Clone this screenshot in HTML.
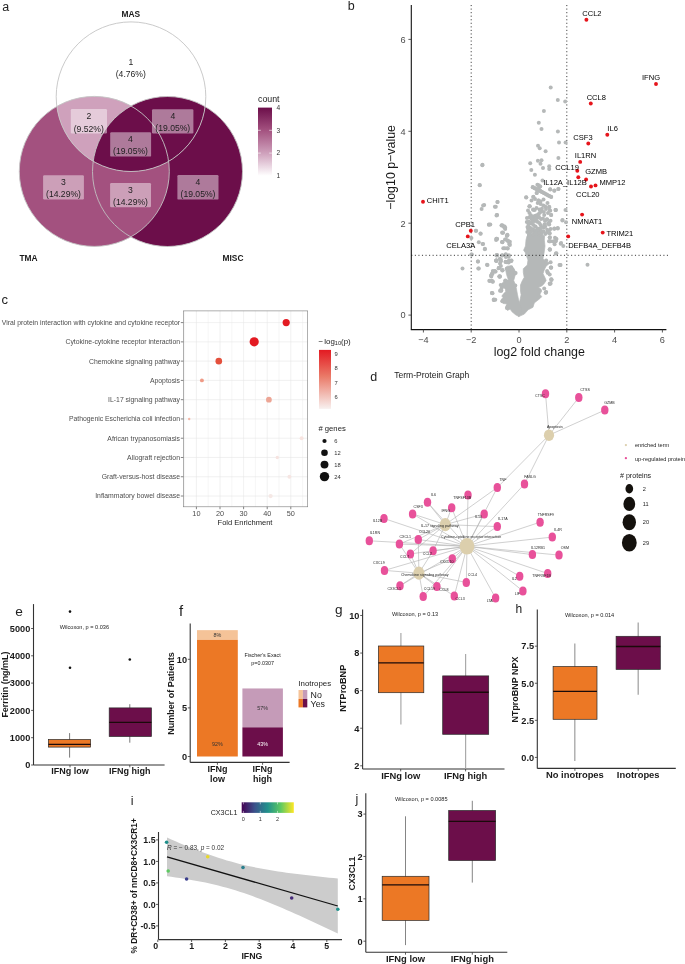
<!DOCTYPE html>
<html><head><meta charset="utf-8"><title>Figure</title>
<style>
html,body{margin:0;padding:0;background:#fff;}
body{width:685px;height:964px;overflow:hidden;}
svg{display:block;font-family:"Liberation Sans", sans-serif;will-change:transform;}
</style></head><body>
<svg width="685" height="964" viewBox="0 0 685 964">
<rect width="685" height="964" fill="#fff"/>
<defs><clipPath id="cTMA"><circle cx="94.3" cy="171.4" r="75.0"/></clipPath><clipPath id="cMISC"><circle cx="167.5" cy="171.5" r="75.0"/></clipPath><linearGradient id="gcount" x1="0" y1="0" x2="0" y2="1"><stop offset="0" stop-color="#6c0e4a"/><stop offset="0.33" stop-color="#a3517f"/><stop offset="0.67" stop-color="#cfa1bc"/><stop offset="1" stop-color="#ffffff"/></linearGradient></defs><circle cx="94.3" cy="171.4" r="75.0" fill="#a3517f" /><circle cx="167.5" cy="171.5" r="75.0" fill="#6c0e4a" /><g clip-path="url(#cTMA)"><circle cx="167.5" cy="171.5" r="75.0" fill="#a3517f" /></g><circle cx="131.0" cy="96.7" r="74.8" fill="#ffffff" /><g clip-path="url(#cTMA)"><circle cx="131.0" cy="96.7" r="74.8" fill="#cfa1bc" /></g><g clip-path="url(#cMISC)"><circle cx="131.0" cy="96.7" r="74.8" fill="#6c0e4a" /></g><circle cx="131.0" cy="96.7" r="74.8" fill="none" stroke="#c4c4c4" stroke-width="0.9"/><circle cx="94.3" cy="171.4" r="75.0" fill="none" stroke="#c4c4c4" stroke-width="0.9"/><circle cx="167.5" cy="171.5" r="75.0" fill="none" stroke="#c4c4c4" stroke-width="0.9"/><text x="130.80" y="64.70" font-size="8.6" text-anchor="middle" font-weight="normal" fill="#1e1e1e" >1</text><text x="130.80" y="77.30" font-size="8.6" text-anchor="middle" font-weight="normal" fill="#1e1e1e" >(4.76%)</text><rect x="70.8" y="109.0" width="36.2" height="24.4" rx="1.2" fill="#ffffff" fill-opacity="0.45"/><text x="88.80" y="119.20" font-size="8.6" text-anchor="middle" font-weight="normal" fill="#1e1e1e" >2</text><text x="88.80" y="131.70" font-size="8.6" text-anchor="middle" font-weight="normal" fill="#1e1e1e" >(9.52%)</text><rect x="152.0" y="109.2" width="41.4" height="24.2" rx="1.2" fill="#ffffff" fill-opacity="0.45"/><text x="172.80" y="119.00" font-size="8.6" text-anchor="middle" font-weight="normal" fill="#1e1e1e" >4</text><text x="172.80" y="131.30" font-size="8.6" text-anchor="middle" font-weight="normal" fill="#1e1e1e" >(19.05%)</text><rect x="110.2" y="132.2" width="40.9" height="24.4" rx="1.2" fill="#ffffff" fill-opacity="0.45"/><text x="130.50" y="142.00" font-size="8.6" text-anchor="middle" font-weight="normal" fill="#1e1e1e" >4</text><text x="130.50" y="154.30" font-size="8.6" text-anchor="middle" font-weight="normal" fill="#1e1e1e" >(19.05%)</text><rect x="43.1" y="175.2" width="40.8" height="24.2" rx="1.2" fill="#ffffff" fill-opacity="0.45"/><text x="63.50" y="184.90" font-size="8.6" text-anchor="middle" font-weight="normal" fill="#1e1e1e" >3</text><text x="63.50" y="196.90" font-size="8.6" text-anchor="middle" font-weight="normal" fill="#1e1e1e" >(14.29%)</text><rect x="110.1" y="183.0" width="40.9" height="24.2" rx="1.2" fill="#ffffff" fill-opacity="0.45"/><text x="130.50" y="192.70" font-size="8.6" text-anchor="middle" font-weight="normal" fill="#1e1e1e" >3</text><text x="130.50" y="204.70" font-size="8.6" text-anchor="middle" font-weight="normal" fill="#1e1e1e" >(14.29%)</text><rect x="177.4" y="175.0" width="41.1" height="24.6" rx="1.2" fill="#ffffff" fill-opacity="0.45"/><text x="198.00" y="184.80" font-size="8.6" text-anchor="middle" font-weight="normal" fill="#1e1e1e" >4</text><text x="198.00" y="196.90" font-size="8.6" text-anchor="middle" font-weight="normal" fill="#1e1e1e" >(19.05%)</text><text x="130.80" y="16.60" font-size="8.4" text-anchor="middle" font-weight="bold" fill="#1a1a1a" >MAS</text><text x="28.50" y="260.90" font-size="8.4" text-anchor="middle" font-weight="bold" fill="#1a1a1a" >TMA</text><text x="233.00" y="261.30" font-size="8.4" text-anchor="middle" font-weight="bold" fill="#1a1a1a" >MISC</text><text x="258.00" y="102.20" font-size="8.8" text-anchor="start" font-weight="normal" fill="#222" >count</text><rect x="258" y="107.6" width="14" height="68.2" fill="url(#gcount)"/><text x="276.50" y="109.90" font-size="6.6" text-anchor="start" font-weight="normal" fill="#333" >4</text><line x1="258" y1="130.3" x2="260.8" y2="130.3" stroke="#fff" stroke-width="0.6"/><line x1="269.2" y1="130.3" x2="272" y2="130.3" stroke="#fff" stroke-width="0.6"/><text x="276.50" y="132.63" font-size="6.6" text-anchor="start" font-weight="normal" fill="#333" >3</text><line x1="258" y1="153.1" x2="260.8" y2="153.1" stroke="#fff" stroke-width="0.6"/><line x1="269.2" y1="153.1" x2="272" y2="153.1" stroke="#fff" stroke-width="0.6"/><text x="276.50" y="155.36" font-size="6.6" text-anchor="start" font-weight="normal" fill="#333" >2</text><text x="276.50" y="178.09" font-size="6.6" text-anchor="start" font-weight="normal" fill="#333" >1</text><line x1="471.20" y1="5" x2="471.20" y2="329.5" stroke="#1a1a1a" stroke-width="0.85" stroke-dasharray="1.1 2.45"/><line x1="566.80" y1="5" x2="566.80" y2="329.5" stroke="#1a1a1a" stroke-width="0.85" stroke-dasharray="1.1 2.45"/><polygon points="527.0,236.0 531.0,234.0 536.0,235.0 541.0,234.2 544.6,236.0 544.3,240.0 545.0,246.1 544.0,253.3 543.0,258.4 546.0,262.0 550.5,262.5 546.1,266.2 544.2,270.0 543.0,273.7 545.5,278.7 546.1,280.5 544.2,283.6 541.7,286.1 538.5,287.2 541.1,289.2 541.7,291.1 539.9,294.2 541.7,296.7 539.9,298.6 534.3,302.9 533.0,307.3 528.1,309.8 524.3,314.1 518.7,316.6 519.4,302.9 521.1,294.8 520.5,291.1 520.5,284.9 522.4,280.5 524.2,277.4 523.3,272.4 523.3,268.7 527.3,265.0 528.0,260.0 525.1,252.3 523.6,250.2 525.5,246.0 526.0,240.0" fill="#b5b8b8" stroke="#b5b8b8" stroke-width="0.7" stroke-linejoin="round"/><polygon points="519.0,316.6 515.5,314.7 511.8,311.6 510.2,309.1 507.4,310.4 505.6,307.3 506.5,305.4 507.5,304.0 503.1,303.5 500.9,301.1 501.8,298.9 503.0,297.5 501.8,296.1 503.7,293.6 505.6,291.7 505.5,289.5 504.3,288.0 500.9,287.4 500.3,285.5 501.8,283.6 503.7,281.8 504.0,279.9 506.8,279.9 508.5,280.0 507.5,277.5 506.5,274.3 505.3,268.1 507.4,266.2 511.2,265.9 513.7,268.1 516.2,273.1 514.9,276.2 513.7,280.5 515.5,284.9 516.5,289.2 517.4,294.2 518.6,299.8 519.6,302.9 522.0,310.0" fill="#b5b8b8" stroke="#b5b8b8" stroke-width="0.7" stroke-linejoin="round"/><circle cx="550.7" cy="87.5" r="2.0" fill="#b5b8b8"/><circle cx="557.8" cy="100.1" r="2.0" fill="#b5b8b8"/><circle cx="565.2" cy="101.5" r="2.0" fill="#b5b8b8"/><circle cx="543.9" cy="110.9" r="2.0" fill="#b5b8b8"/><circle cx="538.8" cy="122.8" r="2.0" fill="#b5b8b8"/><circle cx="541.5" cy="129.0" r="2.0" fill="#b5b8b8"/><circle cx="557.9" cy="131.5" r="2.0" fill="#b5b8b8"/><circle cx="559.0" cy="142.6" r="2.0" fill="#b5b8b8"/><circle cx="565.6" cy="142.4" r="2.0" fill="#b5b8b8"/><circle cx="538.0" cy="145.7" r="2.0" fill="#b5b8b8"/><circle cx="539.7" cy="148.2" r="2.0" fill="#b5b8b8"/><circle cx="545.6" cy="151.2" r="2.0" fill="#b5b8b8"/><circle cx="558.4" cy="158.1" r="2.0" fill="#b5b8b8"/><circle cx="482.5" cy="164.8" r="2.0" fill="#b5b8b8"/><circle cx="530.2" cy="163.3" r="2.0" fill="#b5b8b8"/><circle cx="537.9" cy="160.7" r="2.0" fill="#b5b8b8"/><circle cx="541.5" cy="160.2" r="2.0" fill="#b5b8b8"/><circle cx="540.5" cy="163.8" r="2.0" fill="#b5b8b8"/><circle cx="543.0" cy="167.9" r="2.0" fill="#b5b8b8"/><circle cx="549.2" cy="166.3" r="2.0" fill="#b5b8b8"/><circle cx="549.2" cy="168.9" r="2.0" fill="#b5b8b8"/><circle cx="531.3" cy="169.9" r="2.0" fill="#b5b8b8"/><circle cx="534.9" cy="174.8" r="2.0" fill="#b5b8b8"/><circle cx="542.5" cy="180.5" r="2.0" fill="#b5b8b8"/><circle cx="532.8" cy="187.0" r="2.0" fill="#b5b8b8"/><circle cx="535.1" cy="188.2" r="2.0" fill="#b5b8b8"/><circle cx="537.4" cy="189.5" r="2.0" fill="#b5b8b8"/><circle cx="539.7" cy="190.8" r="2.0" fill="#b5b8b8"/><circle cx="542.0" cy="192.0" r="2.0" fill="#b5b8b8"/><circle cx="544.3" cy="193.2" r="2.0" fill="#b5b8b8"/><circle cx="546.6" cy="194.5" r="2.0" fill="#b5b8b8"/><circle cx="548.9" cy="195.8" r="2.0" fill="#b5b8b8"/><circle cx="551.2" cy="197.0" r="2.0" fill="#b5b8b8"/><circle cx="537.4" cy="184.7" r="2.0" fill="#b5b8b8"/><circle cx="539.0" cy="187.8" r="2.0" fill="#b5b8b8"/><circle cx="540.5" cy="191.0" r="2.0" fill="#b5b8b8"/><circle cx="536.7" cy="192.9" r="2.0" fill="#b5b8b8"/><circle cx="550.2" cy="189.3" r="2.0" fill="#b5b8b8"/><circle cx="554.3" cy="190.7" r="2.0" fill="#b5b8b8"/><circle cx="558.4" cy="189.1" r="2.0" fill="#b5b8b8"/><circle cx="526.2" cy="197.5" r="2.0" fill="#b5b8b8"/><circle cx="533.3" cy="197.0" r="2.0" fill="#b5b8b8"/><circle cx="538.4" cy="200.6" r="2.0" fill="#b5b8b8"/><circle cx="529.7" cy="206.2" r="2.0" fill="#b5b8b8"/><circle cx="533.3" cy="209.8" r="2.0" fill="#b5b8b8"/><circle cx="555.8" cy="210.1" r="2.0" fill="#b5b8b8"/><circle cx="549.2" cy="207.2" r="2.0" fill="#b5b8b8"/><circle cx="550.2" cy="210.8" r="2.0" fill="#b5b8b8"/><circle cx="551.2" cy="214.9" r="2.0" fill="#b5b8b8"/><circle cx="562.4" cy="220.5" r="2.0" fill="#b5b8b8"/><circle cx="554.3" cy="228.7" r="2.0" fill="#b5b8b8"/><circle cx="557.8" cy="228.5" r="2.0" fill="#b5b8b8"/><circle cx="565.5" cy="210.1" r="2.0" fill="#b5b8b8"/><circle cx="562.5" cy="220.1" r="2.0" fill="#b5b8b8"/><circle cx="566.0" cy="222.3" r="2.0" fill="#b5b8b8"/><circle cx="548.9" cy="222.8" r="2.0" fill="#b5b8b8"/><circle cx="549.8" cy="233.3" r="2.0" fill="#b5b8b8"/><circle cx="549.8" cy="237.2" r="2.0" fill="#b5b8b8"/><circle cx="549.3" cy="241.2" r="2.0" fill="#b5b8b8"/><circle cx="553.3" cy="241.6" r="2.0" fill="#b5b8b8"/><circle cx="554.6" cy="244.2" r="2.0" fill="#b5b8b8"/><circle cx="556.3" cy="239.0" r="2.0" fill="#b5b8b8"/><circle cx="560.7" cy="243.8" r="2.0" fill="#b5b8b8"/><circle cx="563.3" cy="246.0" r="2.0" fill="#b5b8b8"/><circle cx="549.9" cy="249.5" r="2.0" fill="#b5b8b8"/><circle cx="555.9" cy="253.4" r="2.0" fill="#b5b8b8"/><circle cx="560.5" cy="265.0" r="2.0" fill="#b5b8b8"/><circle cx="551.1" cy="267.4" r="2.0" fill="#b5b8b8"/><circle cx="529.5" cy="206.3" r="2.0" fill="#b5b8b8"/><circle cx="555.5" cy="210.1" r="2.0" fill="#b5b8b8"/><circle cx="547.1" cy="219.4" r="2.0" fill="#b5b8b8"/><circle cx="548.0" cy="223.8" r="2.0" fill="#b5b8b8"/><circle cx="548.8" cy="230.8" r="2.0" fill="#b5b8b8"/><circle cx="550.6" cy="229.0" r="2.0" fill="#b5b8b8"/><circle cx="555.0" cy="237.8" r="2.0" fill="#b5b8b8"/><circle cx="555.8" cy="241.3" r="2.0" fill="#b5b8b8"/><circle cx="550.6" cy="241.3" r="2.0" fill="#b5b8b8"/><circle cx="561.1" cy="243.1" r="2.0" fill="#b5b8b8"/><circle cx="549.7" cy="249.2" r="2.0" fill="#b5b8b8"/><circle cx="546.2" cy="260.6" r="2.0" fill="#b5b8b8"/><circle cx="550.6" cy="262.3" r="2.0" fill="#b5b8b8"/><circle cx="560.2" cy="265.0" r="2.0" fill="#b5b8b8"/><circle cx="587.5" cy="264.8" r="2.0" fill="#b5b8b8"/><circle cx="547.1" cy="271.1" r="2.0" fill="#b5b8b8"/><circle cx="549.7" cy="274.6" r="2.0" fill="#b5b8b8"/><circle cx="551.5" cy="279.9" r="2.0" fill="#b5b8b8"/><circle cx="550.6" cy="283.4" r="2.0" fill="#b5b8b8"/><circle cx="546.2" cy="292.1" r="2.0" fill="#b5b8b8"/><circle cx="549.8" cy="249.7" r="2.0" fill="#b5b8b8"/><circle cx="556.4" cy="253.3" r="2.0" fill="#b5b8b8"/><circle cx="559.5" cy="265.0" r="2.0" fill="#b5b8b8"/><circle cx="550.8" cy="267.6" r="2.0" fill="#b5b8b8"/><circle cx="547.7" cy="272.7" r="2.0" fill="#b5b8b8"/><circle cx="551.3" cy="279.3" r="2.0" fill="#b5b8b8"/><circle cx="549.8" cy="283.9" r="2.0" fill="#b5b8b8"/><circle cx="545.7" cy="292.6" r="2.0" fill="#b5b8b8"/><circle cx="482.3" cy="165.3" r="2.0" fill="#b5b8b8"/><circle cx="479.8" cy="185.3" r="2.0" fill="#b5b8b8"/><circle cx="497.4" cy="201.9" r="2.0" fill="#b5b8b8"/><circle cx="484.2" cy="205.0" r="2.0" fill="#b5b8b8"/><circle cx="481.6" cy="209.0" r="2.0" fill="#b5b8b8"/><circle cx="494.9" cy="206.7" r="2.0" fill="#b5b8b8"/><circle cx="496.9" cy="215.1" r="2.0" fill="#b5b8b8"/><circle cx="489.0" cy="224.6" r="2.0" fill="#b5b8b8"/><circle cx="475.8" cy="230.7" r="2.0" fill="#b5b8b8"/><circle cx="480.6" cy="233.8" r="2.0" fill="#b5b8b8"/><circle cx="471.4" cy="237.9" r="2.0" fill="#b5b8b8"/><circle cx="496.9" cy="238.7" r="2.0" fill="#b5b8b8"/><circle cx="478.8" cy="242.2" r="2.0" fill="#b5b8b8"/><circle cx="482.6" cy="244.0" r="2.0" fill="#b5b8b8"/><circle cx="484.9" cy="248.8" r="2.0" fill="#b5b8b8"/><circle cx="496.9" cy="239.1" r="2.0" fill="#b5b8b8"/><circle cx="471.4" cy="254.4" r="2.0" fill="#b5b8b8"/><circle cx="496.9" cy="254.9" r="2.0" fill="#b5b8b8"/><circle cx="478.0" cy="261.4" r="2.0" fill="#b5b8b8"/><circle cx="487.0" cy="264.8" r="2.0" fill="#b5b8b8"/><circle cx="462.5" cy="268.5" r="2.0" fill="#b5b8b8"/><circle cx="478.3" cy="268.5" r="2.0" fill="#b5b8b8"/><circle cx="496.4" cy="260.5" r="2.0" fill="#b5b8b8"/><circle cx="494.9" cy="271.3" r="2.0" fill="#b5b8b8"/><circle cx="499.0" cy="267.9" r="2.0" fill="#b5b8b8"/><circle cx="491.8" cy="274.3" r="2.0" fill="#b5b8b8"/><circle cx="491.3" cy="276.4" r="2.0" fill="#b5b8b8"/><circle cx="499.3" cy="276.4" r="2.0" fill="#b5b8b8"/><circle cx="489.8" cy="281.0" r="2.0" fill="#b5b8b8"/><circle cx="492.8" cy="281.8" r="2.0" fill="#b5b8b8"/><circle cx="492.5" cy="293.2" r="2.0" fill="#b5b8b8"/><circle cx="493.9" cy="299.6" r="2.0" fill="#b5b8b8"/><circle cx="500.0" cy="290.7" r="2.0" fill="#b5b8b8"/><circle cx="497.6" cy="201.9" r="2.0" fill="#b5b8b8"/><circle cx="495.8" cy="206.7" r="2.0" fill="#b5b8b8"/><circle cx="497.0" cy="214.9" r="2.0" fill="#b5b8b8"/><circle cx="502.7" cy="225.6" r="2.0" fill="#b5b8b8"/><circle cx="505.2" cy="227.7" r="2.0" fill="#b5b8b8"/><circle cx="502.2" cy="232.8" r="2.0" fill="#b5b8b8"/><circle cx="507.3" cy="234.8" r="2.0" fill="#b5b8b8"/><circle cx="501.5" cy="225.5" r="2.0" fill="#b5b8b8"/><circle cx="504.2" cy="227.3" r="2.0" fill="#b5b8b8"/><circle cx="502.4" cy="232.6" r="2.0" fill="#b5b8b8"/><circle cx="506.8" cy="236.1" r="2.0" fill="#b5b8b8"/><circle cx="507.7" cy="240.4" r="2.0" fill="#b5b8b8"/><circle cx="505.0" cy="239.6" r="2.0" fill="#b5b8b8"/><circle cx="509.4" cy="243.9" r="2.0" fill="#b5b8b8"/><circle cx="502.4" cy="242.2" r="2.0" fill="#b5b8b8"/><circle cx="496.3" cy="238.7" r="2.0" fill="#b5b8b8"/><circle cx="476.1" cy="230.8" r="2.0" fill="#b5b8b8"/><circle cx="480.5" cy="233.4" r="2.0" fill="#b5b8b8"/><circle cx="483.1" cy="243.9" r="2.0" fill="#b5b8b8"/><circle cx="477.9" cy="261.5" r="2.0" fill="#b5b8b8"/><circle cx="487.5" cy="265.0" r="2.0" fill="#b5b8b8"/><circle cx="478.8" cy="268.5" r="2.0" fill="#b5b8b8"/><circle cx="497.2" cy="255.3" r="2.0" fill="#b5b8b8"/><circle cx="496.3" cy="260.6" r="2.0" fill="#b5b8b8"/><circle cx="499.8" cy="258.8" r="2.0" fill="#b5b8b8"/><circle cx="505.9" cy="257.1" r="2.0" fill="#b5b8b8"/><circle cx="506.8" cy="262.3" r="2.0" fill="#b5b8b8"/><circle cx="492.8" cy="271.1" r="2.0" fill="#b5b8b8"/><circle cx="491.0" cy="275.5" r="2.0" fill="#b5b8b8"/><circle cx="489.3" cy="280.7" r="2.0" fill="#b5b8b8"/><circle cx="491.9" cy="280.7" r="2.0" fill="#b5b8b8"/><circle cx="491.9" cy="293.0" r="2.0" fill="#b5b8b8"/><circle cx="493.7" cy="300.0" r="2.0" fill="#b5b8b8"/><circle cx="499.8" cy="276.4" r="2.0" fill="#b5b8b8"/><circle cx="500.7" cy="285.1" r="2.0" fill="#b5b8b8"/><circle cx="501.5" cy="288.6" r="2.0" fill="#b5b8b8"/><circle cx="507.7" cy="306.1" r="2.0" fill="#b5b8b8"/><circle cx="496.1" cy="260.4" r="2.0" fill="#b5b8b8"/><circle cx="492.0" cy="273.7" r="2.0" fill="#b5b8b8"/><circle cx="499.7" cy="276.3" r="2.0" fill="#b5b8b8"/><circle cx="492.6" cy="281.4" r="2.0" fill="#b5b8b8"/><circle cx="492.0" cy="293.1" r="2.0" fill="#b5b8b8"/><circle cx="493.9" cy="299.8" r="2.0" fill="#b5b8b8"/><circle cx="494.6" cy="271.2" r="2.0" fill="#b5b8b8"/><circle cx="502.3" cy="270.1" r="2.0" fill="#b5b8b8"/><circle cx="505.3" cy="280.4" r="2.0" fill="#b5b8b8"/><circle cx="501.2" cy="290.6" r="2.0" fill="#b5b8b8"/><circle cx="502.3" cy="301.3" r="2.0" fill="#b5b8b8"/><circle cx="506.9" cy="308.0" r="2.0" fill="#b5b8b8"/><circle cx="496.6" cy="255.3" r="2.0" fill="#b5b8b8"/><circle cx="502.3" cy="255.3" r="2.0" fill="#b5b8b8"/><circle cx="505.8" cy="254.3" r="2.0" fill="#b5b8b8"/><circle cx="508.9" cy="255.3" r="2.0" fill="#b5b8b8"/><circle cx="509.4" cy="260.4" r="2.0" fill="#b5b8b8"/><circle cx="506.4" cy="262.0" r="2.0" fill="#b5b8b8"/><circle cx="511.5" cy="260.4" r="2.0" fill="#b5b8b8"/><circle cx="503.3" cy="248.2" r="2.0" fill="#b5b8b8"/><circle cx="507.4" cy="248.2" r="2.0" fill="#b5b8b8"/><circle cx="502.3" cy="242.0" r="2.0" fill="#b5b8b8"/><circle cx="509.4" cy="244.1" r="2.0" fill="#b5b8b8"/><circle cx="507.9" cy="241.0" r="2.0" fill="#b5b8b8"/><circle cx="496.1" cy="240.0" r="2.0" fill="#b5b8b8"/><circle cx="479.6" cy="184.9" r="2.0" fill="#b5b8b8"/><circle cx="483.1" cy="205.4" r="2.0" fill="#b5b8b8"/><circle cx="488.9" cy="224.7" r="2.0" fill="#b5b8b8"/><circle cx="484.9" cy="249.2" r="2.0" fill="#b5b8b8"/><circle cx="471.8" cy="254.5" r="2.0" fill="#b5b8b8"/><circle cx="532.7" cy="187.3" r="2.0" fill="#b5b8b8"/><circle cx="534.5" cy="188.2" r="2.0" fill="#b5b8b8"/><circle cx="536.4" cy="189.2" r="2.0" fill="#b5b8b8"/><circle cx="538.2" cy="190.2" r="2.0" fill="#b5b8b8"/><circle cx="540.1" cy="191.1" r="2.0" fill="#b5b8b8"/><circle cx="541.9" cy="192.1" r="2.0" fill="#b5b8b8"/><circle cx="543.7" cy="193.0" r="2.0" fill="#b5b8b8"/><circle cx="545.6" cy="194.0" r="2.0" fill="#b5b8b8"/><circle cx="547.4" cy="194.9" r="2.0" fill="#b5b8b8"/><circle cx="549.3" cy="195.9" r="2.0" fill="#b5b8b8"/><circle cx="551.1" cy="196.8" r="2.0" fill="#b5b8b8"/><circle cx="536.7" cy="192.9" r="2.0" fill="#b5b8b8"/><circle cx="538.7" cy="185.3" r="2.0" fill="#b5b8b8"/><circle cx="540.3" cy="186.6" r="2.0" fill="#b5b8b8"/><circle cx="550.2" cy="189.6" r="2.0" fill="#b5b8b8"/><circle cx="554.4" cy="190.6" r="2.0" fill="#b5b8b8"/><circle cx="558.4" cy="188.9" r="2.0" fill="#b5b8b8"/><circle cx="526.2" cy="197.2" r="2.0" fill="#b5b8b8"/><circle cx="533.4" cy="196.8" r="2.0" fill="#b5b8b8"/><circle cx="538.7" cy="200.4" r="2.0" fill="#b5b8b8"/><circle cx="537.7" cy="203.1" r="2.0" fill="#b5b8b8"/><circle cx="540.6" cy="204.1" r="2.0" fill="#b5b8b8"/><circle cx="543.3" cy="205.4" r="2.0" fill="#b5b8b8"/><circle cx="545.2" cy="206.4" r="2.0" fill="#b5b8b8"/><circle cx="549.2" cy="206.7" r="2.0" fill="#b5b8b8"/><circle cx="549.8" cy="210.3" r="2.0" fill="#b5b8b8"/><circle cx="555.7" cy="210.0" r="2.0" fill="#b5b8b8"/><circle cx="529.5" cy="206.4" r="2.0" fill="#b5b8b8"/><circle cx="533.1" cy="209.6" r="2.0" fill="#b5b8b8"/><circle cx="534.7" cy="210.0" r="2.0" fill="#b5b8b8"/><circle cx="541.9" cy="208.7" r="2.0" fill="#b5b8b8"/><circle cx="541.3" cy="211.3" r="2.0" fill="#b5b8b8"/><circle cx="543.9" cy="211.9" r="2.0" fill="#b5b8b8"/><circle cx="540.0" cy="212.6" r="2.0" fill="#b5b8b8"/><circle cx="538.7" cy="213.9" r="2.0" fill="#b5b8b8"/><circle cx="544.2" cy="214.9" r="2.0" fill="#b5b8b8"/><circle cx="551.1" cy="214.9" r="2.0" fill="#b5b8b8"/><circle cx="530.8" cy="215.2" r="2.0" fill="#b5b8b8"/><circle cx="529.5" cy="217.2" r="2.0" fill="#b5b8b8"/><circle cx="532.1" cy="216.5" r="2.0" fill="#b5b8b8"/><circle cx="534.7" cy="215.9" r="2.0" fill="#b5b8b8"/><circle cx="536.7" cy="215.2" r="2.0" fill="#b5b8b8"/><circle cx="537.3" cy="217.9" r="2.0" fill="#b5b8b8"/><circle cx="534.1" cy="218.5" r="2.0" fill="#b5b8b8"/><circle cx="531.4" cy="218.5" r="2.0" fill="#b5b8b8"/><circle cx="546.9" cy="219.2" r="2.0" fill="#b5b8b8"/><circle cx="550.5" cy="220.8" r="2.0" fill="#b5b8b8"/><circle cx="549.2" cy="224.4" r="2.0" fill="#b5b8b8"/><circle cx="526.8" cy="222.1" r="2.0" fill="#b5b8b8"/><circle cx="528.8" cy="221.5" r="2.0" fill="#b5b8b8"/><circle cx="532.1" cy="221.8" r="2.0" fill="#b5b8b8"/><circle cx="534.7" cy="221.1" r="2.0" fill="#b5b8b8"/><circle cx="537.3" cy="221.8" r="2.0" fill="#b5b8b8"/><circle cx="539.3" cy="223.1" r="2.0" fill="#b5b8b8"/><circle cx="540.6" cy="225.1" r="2.0" fill="#b5b8b8"/><circle cx="541.9" cy="227.0" r="2.0" fill="#b5b8b8"/><circle cx="543.9" cy="227.7" r="2.0" fill="#b5b8b8"/><circle cx="545.2" cy="226.4" r="2.0" fill="#b5b8b8"/><circle cx="540.0" cy="228.4" r="2.0" fill="#b5b8b8"/><circle cx="554.4" cy="228.4" r="2.0" fill="#b5b8b8"/><circle cx="557.7" cy="228.0" r="2.0" fill="#b5b8b8"/><circle cx="530.1" cy="227.7" r="2.0" fill="#b5b8b8"/><circle cx="532.7" cy="230.3" r="2.0" fill="#b5b8b8"/><circle cx="530.1" cy="233.0" r="2.0" fill="#b5b8b8"/><circle cx="528.8" cy="235.0" r="2.0" fill="#b5b8b8"/><circle cx="547.2" cy="229.7" r="2.0" fill="#b5b8b8"/><circle cx="549.2" cy="233.0" r="2.0" fill="#b5b8b8"/><circle cx="549.8" cy="237.6" r="2.0" fill="#b5b8b8"/><circle cx="549.2" cy="241.2" r="2.0" fill="#b5b8b8"/><circle cx="538.7" cy="234.3" r="2.0" fill="#b5b8b8"/><circle cx="541.3" cy="233.6" r="2.0" fill="#b5b8b8"/><circle cx="545.2" cy="234.0" r="2.0" fill="#b5b8b8"/><circle cx="556.4" cy="238.9" r="2.0" fill="#b5b8b8"/><circle cx="553.8" cy="241.5" r="2.0" fill="#b5b8b8"/><circle cx="528.6" cy="224.6" r="2.0" fill="#b5b8b8"/><circle cx="528.0" cy="228.7" r="2.0" fill="#b5b8b8"/><circle cx="527.3" cy="232.0" r="2.0" fill="#b5b8b8"/><circle cx="496.5" cy="215.6" r="2.0" fill="#b5b8b8"/><circle cx="490.3" cy="224.6" r="2.0" fill="#b5b8b8"/><circle cx="501.8" cy="225.3" r="2.0" fill="#b5b8b8"/><circle cx="504.6" cy="226.5" r="2.0" fill="#b5b8b8"/><circle cx="505.2" cy="229.0" r="2.0" fill="#b5b8b8"/><circle cx="503.1" cy="232.7" r="2.0" fill="#b5b8b8"/><circle cx="507.4" cy="235.2" r="2.0" fill="#b5b8b8"/><circle cx="496.8" cy="239.0" r="2.0" fill="#b5b8b8"/><circle cx="502.1" cy="242.1" r="2.0" fill="#b5b8b8"/><circle cx="505.9" cy="239.6" r="2.0" fill="#b5b8b8"/><circle cx="509.9" cy="241.8" r="2.0" fill="#b5b8b8"/><circle cx="509.9" cy="244.9" r="2.0" fill="#b5b8b8"/><circle cx="504.9" cy="248.3" r="2.0" fill="#b5b8b8"/><circle cx="507.7" cy="248.6" r="2.0" fill="#b5b8b8"/><circle cx="496.5" cy="255.4" r="2.0" fill="#b5b8b8"/><circle cx="502.1" cy="255.4" r="2.0" fill="#b5b8b8"/><circle cx="505.6" cy="254.8" r="2.0" fill="#b5b8b8"/><circle cx="508.7" cy="256.7" r="2.0" fill="#b5b8b8"/><circle cx="496.5" cy="260.7" r="2.0" fill="#b5b8b8"/><circle cx="500.9" cy="259.8" r="2.0" fill="#b5b8b8"/><circle cx="500.0" cy="263.5" r="2.0" fill="#b5b8b8"/><circle cx="500.9" cy="266.0" r="2.0" fill="#b5b8b8"/><circle cx="505.6" cy="261.7" r="2.0" fill="#b5b8b8"/><circle cx="508.7" cy="261.0" r="2.0" fill="#b5b8b8"/><circle cx="511.2" cy="260.7" r="2.0" fill="#b5b8b8"/><circle cx="498.7" cy="268.2" r="2.0" fill="#b5b8b8"/><circle cx="495.0" cy="271.6" r="2.0" fill="#b5b8b8"/><circle cx="492.5" cy="273.8" r="2.0" fill="#b5b8b8"/><circle cx="502.4" cy="270.4" r="2.0" fill="#b5b8b8"/><circle cx="506.8" cy="268.5" r="2.0" fill="#b5b8b8"/><circle cx="511.2" cy="267.3" r="2.0" fill="#b5b8b8"/><circle cx="512.4" cy="269.8" r="2.0" fill="#b5b8b8"/><circle cx="514.9" cy="272.9" r="2.0" fill="#b5b8b8"/><circle cx="531.5" cy="223.5" r="2.0" fill="#b5b8b8"/><circle cx="533.5" cy="225.0" r="2.0" fill="#b5b8b8"/><circle cx="535.5" cy="226.5" r="2.0" fill="#b5b8b8"/><circle cx="537.5" cy="228.5" r="2.0" fill="#b5b8b8"/><circle cx="533.0" cy="229.0" r="2.0" fill="#b5b8b8"/><circle cx="535.0" cy="230.5" r="2.0" fill="#b5b8b8"/><circle cx="537.5" cy="231.5" r="2.0" fill="#b5b8b8"/><circle cx="531.5" cy="231.0" r="2.0" fill="#b5b8b8"/><circle cx="539.5" cy="230.5" r="2.0" fill="#b5b8b8"/><circle cx="541.5" cy="231.0" r="2.0" fill="#b5b8b8"/><circle cx="543.5" cy="231.5" r="2.0" fill="#b5b8b8"/><circle cx="534.0" cy="233.0" r="2.0" fill="#b5b8b8"/><circle cx="536.5" cy="233.5" r="2.0" fill="#b5b8b8"/><circle cx="539.0" cy="233.0" r="2.0" fill="#b5b8b8"/><circle cx="533.0" cy="235.0" r="2.0" fill="#b5b8b8"/><circle cx="529.0" cy="230.0" r="2.0" fill="#b5b8b8"/><circle cx="532.5" cy="220.5" r="2.0" fill="#b5b8b8"/><circle cx="535.5" cy="219.5" r="2.0" fill="#b5b8b8"/><circle cx="539.0" cy="217.0" r="2.0" fill="#b5b8b8"/><circle cx="541.0" cy="219.0" r="2.0" fill="#b5b8b8"/><circle cx="543.0" cy="218.5" r="2.0" fill="#b5b8b8"/><circle cx="545.0" cy="221.0" r="2.0" fill="#b5b8b8"/><circle cx="529.5" cy="213.0" r="2.0" fill="#b5b8b8"/><circle cx="536.5" cy="208.0" r="2.0" fill="#b5b8b8"/><circle cx="539.5" cy="209.5" r="2.0" fill="#b5b8b8"/><circle cx="546.0" cy="209.0" r="2.0" fill="#b5b8b8"/><circle cx="548.0" cy="213.0" r="2.0" fill="#b5b8b8"/><circle cx="544.5" cy="224.5" r="2.0" fill="#b5b8b8"/><circle cx="547.0" cy="232.5" r="2.0" fill="#b5b8b8"/><circle cx="527.5" cy="227.0" r="2.0" fill="#b5b8b8"/><circle cx="540.5" cy="201.5" r="2.0" fill="#b5b8b8"/><circle cx="535.0" cy="199.0" r="2.0" fill="#b5b8b8"/><circle cx="543.5" cy="199.5" r="2.0" fill="#b5b8b8"/><circle cx="547.5" cy="203.0" r="2.0" fill="#b5b8b8"/><circle cx="531.5" cy="200.5" r="2.0" fill="#b5b8b8"/><circle cx="528.0" cy="210.5" r="2.0" fill="#b5b8b8"/><circle cx="527.0" cy="218.0" r="2.0" fill="#b5b8b8"/><circle cx="551.1" cy="267.8" r="2.0" fill="#b5b8b8"/><circle cx="547.7" cy="272.4" r="2.0" fill="#b5b8b8"/><circle cx="551.4" cy="279.6" r="2.0" fill="#b5b8b8"/><circle cx="549.8" cy="283.6" r="2.0" fill="#b5b8b8"/><circle cx="544.2" cy="288.6" r="2.0" fill="#b5b8b8"/><circle cx="545.8" cy="292.7" r="2.0" fill="#b5b8b8"/><circle cx="515.6" cy="273.1" r="2.0" fill="#b5b8b8"/><circle cx="515.3" cy="285.5" r="2.0" fill="#b5b8b8"/><circle cx="496.2" cy="260.9" r="2.0" fill="#b5b8b8"/><circle cx="500.9" cy="261.2" r="2.0" fill="#b5b8b8"/><circle cx="498.7" cy="268.1" r="2.0" fill="#b5b8b8"/><circle cx="495.6" cy="271.5" r="2.0" fill="#b5b8b8"/><circle cx="502.5" cy="270.3" r="2.0" fill="#b5b8b8"/><circle cx="499.7" cy="276.8" r="2.0" fill="#b5b8b8"/><circle cx="501.2" cy="290.8" r="2.0" fill="#b5b8b8"/><circle cx="495.3" cy="299.8" r="2.0" fill="#b5b8b8"/><circle cx="505.6" cy="261.9" r="2.0" fill="#b5b8b8"/><circle cx="508.7" cy="262.5" r="2.0" fill="#b5b8b8"/><circle cx="511.2" cy="260.9" r="2.0" fill="#b5b8b8"/><line x1="411.3" y1="255.32" x2="668" y2="255.32" stroke="#1a1a1a" stroke-width="0.85" stroke-dasharray="1.1 2.45"/><circle cx="586.4" cy="19.7" r="1.95" fill="#e6141b"/><circle cx="656.0" cy="84.0" r="1.95" fill="#e6141b"/><circle cx="590.8" cy="103.5" r="1.95" fill="#e6141b"/><circle cx="607.3" cy="134.8" r="1.95" fill="#e6141b"/><circle cx="588.3" cy="143.5" r="1.95" fill="#e6141b"/><circle cx="580.2" cy="161.9" r="1.95" fill="#e6141b"/><circle cx="577.3" cy="170.8" r="1.95" fill="#e6141b"/><circle cx="586.1" cy="179.5" r="1.95" fill="#e6141b"/><circle cx="578.3" cy="177.2" r="1.95" fill="#e6141b"/><circle cx="591.0" cy="186.5" r="1.95" fill="#e6141b"/><circle cx="595.5" cy="185.4" r="1.95" fill="#e6141b"/><circle cx="582.1" cy="214.6" r="1.95" fill="#e6141b"/><circle cx="602.7" cy="232.6" r="1.95" fill="#e6141b"/><circle cx="568.2" cy="236.4" r="1.95" fill="#e6141b"/><circle cx="423.0" cy="201.7" r="1.95" fill="#e6141b"/><circle cx="470.8" cy="230.8" r="1.95" fill="#e6141b"/><circle cx="467.8" cy="236.4" r="1.95" fill="#e6141b"/><text x="591.90" y="15.80" font-size="7.55" text-anchor="middle" font-weight="normal" fill="#000" >CCL2</text><text x="651.00" y="80.20" font-size="7.55" text-anchor="middle" font-weight="normal" fill="#000" >IFNG</text><text x="596.30" y="99.70" font-size="7.55" text-anchor="middle" font-weight="normal" fill="#000" >CCL8</text><text x="612.60" y="130.70" font-size="7.55" text-anchor="middle" font-weight="normal" fill="#000" >IL6</text><text x="583.00" y="139.70" font-size="7.55" text-anchor="middle" font-weight="normal" fill="#000" >CSF3</text><text x="585.50" y="158.10" font-size="7.55" text-anchor="middle" font-weight="normal" fill="#000" >IL1RN</text><text x="567.10" y="169.70" font-size="7.55" text-anchor="middle" font-weight="normal" fill="#000" >CCL19</text><text x="596.10" y="173.50" font-size="7.55" text-anchor="middle" font-weight="normal" fill="#000" >GZMB</text><text x="565.00" y="185.10" font-size="7.55" text-anchor="middle" font-weight="normal" fill="#000" >IL12A_IL12B</text><text x="612.40" y="185.10" font-size="7.55" text-anchor="middle" font-weight="normal" fill="#000" >MMP12</text><text x="587.80" y="196.80" font-size="7.55" text-anchor="middle" font-weight="normal" fill="#000" >CCL20</text><text x="587.00" y="224.30" font-size="7.55" text-anchor="middle" font-weight="normal" fill="#000" >NMNAT1</text><text x="619.80" y="236.00" font-size="7.55" text-anchor="middle" font-weight="normal" fill="#000" >TRIM21</text><text x="599.60" y="247.60" font-size="7.55" text-anchor="middle" font-weight="normal" fill="#000" >DEFB4A_DEFB4B</text><text x="437.70" y="203.30" font-size="7.55" text-anchor="middle" font-weight="normal" fill="#000" >CHIT1</text><text x="465.20" y="227.00" font-size="7.55" text-anchor="middle" font-weight="normal" fill="#000" >CPB1</text><text x="460.80" y="248.00" font-size="7.55" text-anchor="middle" font-weight="normal" fill="#000" >CELA3A</text><line x1="411.3" y1="5" x2="411.3" y2="329.6" stroke="#111" stroke-width="1.1"/><line x1="410.8" y1="329.6" x2="666.4" y2="329.6" stroke="#111" stroke-width="1.1"/><line x1="408.4" y1="315.10" x2="411.3" y2="315.10" stroke="#333" stroke-width="0.8"/><text x="405.60" y="318.40" font-size="9.2" text-anchor="end" font-weight="normal" fill="#4d4d4d" >0</text><line x1="408.4" y1="223.20" x2="411.3" y2="223.20" stroke="#333" stroke-width="0.8"/><text x="405.60" y="226.50" font-size="9.2" text-anchor="end" font-weight="normal" fill="#4d4d4d" >2</text><line x1="408.4" y1="131.30" x2="411.3" y2="131.30" stroke="#333" stroke-width="0.8"/><text x="405.60" y="134.60" font-size="9.2" text-anchor="end" font-weight="normal" fill="#4d4d4d" >4</text><line x1="408.4" y1="39.40" x2="411.3" y2="39.40" stroke="#333" stroke-width="0.8"/><text x="405.60" y="42.70" font-size="9.2" text-anchor="end" font-weight="normal" fill="#4d4d4d" >6</text><line x1="423.40" y1="329.6" x2="423.40" y2="332.5" stroke="#333" stroke-width="0.8"/><text x="423.40" y="343.10" font-size="9.2" text-anchor="middle" font-weight="normal" fill="#4d4d4d" >−4</text><line x1="471.20" y1="329.6" x2="471.20" y2="332.5" stroke="#333" stroke-width="0.8"/><text x="471.20" y="343.10" font-size="9.2" text-anchor="middle" font-weight="normal" fill="#4d4d4d" >−2</text><line x1="519.00" y1="329.6" x2="519.00" y2="332.5" stroke="#333" stroke-width="0.8"/><text x="519.00" y="343.10" font-size="9.2" text-anchor="middle" font-weight="normal" fill="#4d4d4d" >0</text><line x1="566.80" y1="329.6" x2="566.80" y2="332.5" stroke="#333" stroke-width="0.8"/><text x="566.80" y="343.10" font-size="9.2" text-anchor="middle" font-weight="normal" fill="#4d4d4d" >2</text><line x1="614.60" y1="329.6" x2="614.60" y2="332.5" stroke="#333" stroke-width="0.8"/><text x="614.60" y="343.10" font-size="9.2" text-anchor="middle" font-weight="normal" fill="#4d4d4d" >4</text><line x1="662.40" y1="329.6" x2="662.40" y2="332.5" stroke="#333" stroke-width="0.8"/><text x="662.40" y="343.10" font-size="9.2" text-anchor="middle" font-weight="normal" fill="#4d4d4d" >6</text><text x="539.30" y="356.40" font-size="12.45" text-anchor="middle" font-weight="normal" fill="#1a1a1a" >log2 fold change</text><text x="0" y="0" transform="translate(394.9,167.4) rotate(-90)" font-size="12.4" text-anchor="middle" fill="#1a1a1a">−log10 p−value</text><rect x="183.4" y="310.9" width="124.29999999999998" height="195.90000000000003" fill="#fff"/><line x1="184.60" y1="310.9" x2="184.60" y2="506.8" stroke="#e6e6e6" stroke-width="0.35"/><line x1="196.40" y1="310.9" x2="196.40" y2="506.8" stroke="#e6e6e6" stroke-width="0.55"/><line x1="208.20" y1="310.9" x2="208.20" y2="506.8" stroke="#e6e6e6" stroke-width="0.35"/><line x1="220.00" y1="310.9" x2="220.00" y2="506.8" stroke="#e6e6e6" stroke-width="0.55"/><line x1="231.80" y1="310.9" x2="231.80" y2="506.8" stroke="#e6e6e6" stroke-width="0.35"/><line x1="243.60" y1="310.9" x2="243.60" y2="506.8" stroke="#e6e6e6" stroke-width="0.55"/><line x1="255.40" y1="310.9" x2="255.40" y2="506.8" stroke="#e6e6e6" stroke-width="0.35"/><line x1="267.20" y1="310.9" x2="267.20" y2="506.8" stroke="#e6e6e6" stroke-width="0.55"/><line x1="279.00" y1="310.9" x2="279.00" y2="506.8" stroke="#e6e6e6" stroke-width="0.35"/><line x1="290.80" y1="310.9" x2="290.80" y2="506.8" stroke="#e6e6e6" stroke-width="0.55"/><line x1="302.60" y1="310.9" x2="302.60" y2="506.8" stroke="#e6e6e6" stroke-width="0.35"/><line x1="183.4" y1="322.60" x2="307.7" y2="322.60" stroke="#e6e6e6" stroke-width="0.55"/><line x1="180.8" y1="322.60" x2="183.4" y2="322.60" stroke="#333" stroke-width="0.6"/><text x="180.00" y="325.00" font-size="6.85" text-anchor="end" font-weight="normal" fill="#4d4d4d" >Viral protein interaction with cytokine and cytokine receptor</text><line x1="183.4" y1="341.87" x2="307.7" y2="341.87" stroke="#e6e6e6" stroke-width="0.55"/><line x1="180.8" y1="341.87" x2="183.4" y2="341.87" stroke="#333" stroke-width="0.6"/><text x="180.00" y="344.27" font-size="6.85" text-anchor="end" font-weight="normal" fill="#4d4d4d" >Cytokine-cytokine receptor interaction</text><line x1="183.4" y1="361.14" x2="307.7" y2="361.14" stroke="#e6e6e6" stroke-width="0.55"/><line x1="180.8" y1="361.14" x2="183.4" y2="361.14" stroke="#333" stroke-width="0.6"/><text x="180.00" y="363.54" font-size="6.85" text-anchor="end" font-weight="normal" fill="#4d4d4d" >Chemokine signaling pathway</text><line x1="183.4" y1="380.41" x2="307.7" y2="380.41" stroke="#e6e6e6" stroke-width="0.55"/><line x1="180.8" y1="380.41" x2="183.4" y2="380.41" stroke="#333" stroke-width="0.6"/><text x="180.00" y="382.81" font-size="6.85" text-anchor="end" font-weight="normal" fill="#4d4d4d" >Apoptosis</text><line x1="183.4" y1="399.68" x2="307.7" y2="399.68" stroke="#e6e6e6" stroke-width="0.55"/><line x1="180.8" y1="399.68" x2="183.4" y2="399.68" stroke="#333" stroke-width="0.6"/><text x="180.00" y="402.08" font-size="6.85" text-anchor="end" font-weight="normal" fill="#4d4d4d" >IL-17 signaling pathway</text><line x1="183.4" y1="418.95" x2="307.7" y2="418.95" stroke="#e6e6e6" stroke-width="0.55"/><line x1="180.8" y1="418.95" x2="183.4" y2="418.95" stroke="#333" stroke-width="0.6"/><text x="180.00" y="421.35" font-size="6.85" text-anchor="end" font-weight="normal" fill="#4d4d4d" >Pathogenic Escherichia coli infection</text><line x1="183.4" y1="438.22" x2="307.7" y2="438.22" stroke="#e6e6e6" stroke-width="0.55"/><line x1="180.8" y1="438.22" x2="183.4" y2="438.22" stroke="#333" stroke-width="0.6"/><text x="180.00" y="440.62" font-size="6.85" text-anchor="end" font-weight="normal" fill="#4d4d4d" >African trypanosomiasis</text><line x1="183.4" y1="457.49" x2="307.7" y2="457.49" stroke="#e6e6e6" stroke-width="0.55"/><line x1="180.8" y1="457.49" x2="183.4" y2="457.49" stroke="#333" stroke-width="0.6"/><text x="180.00" y="459.89" font-size="6.85" text-anchor="end" font-weight="normal" fill="#4d4d4d" >Allograft rejection</text><line x1="183.4" y1="476.76" x2="307.7" y2="476.76" stroke="#e6e6e6" stroke-width="0.55"/><line x1="180.8" y1="476.76" x2="183.4" y2="476.76" stroke="#333" stroke-width="0.6"/><text x="180.00" y="479.16" font-size="6.85" text-anchor="end" font-weight="normal" fill="#4d4d4d" >Graft-versus-host disease</text><line x1="183.4" y1="496.03" x2="307.7" y2="496.03" stroke="#e6e6e6" stroke-width="0.55"/><line x1="180.8" y1="496.03" x2="183.4" y2="496.03" stroke="#333" stroke-width="0.6"/><text x="180.00" y="498.43" font-size="6.85" text-anchor="end" font-weight="normal" fill="#4d4d4d" >Inflammatory bowel disease</text><rect x="183.4" y="310.9" width="124.29999999999998" height="195.90000000000003" fill="none" stroke="#7a7a7a" stroke-width="0.6"/><line x1="196.40" y1="506.8" x2="196.40" y2="509.2" stroke="#333" stroke-width="0.6"/><text x="196.40" y="516.20" font-size="7.3" text-anchor="middle" font-weight="normal" fill="#4d4d4d" >10</text><line x1="220.00" y1="506.8" x2="220.00" y2="509.2" stroke="#333" stroke-width="0.6"/><text x="220.00" y="516.20" font-size="7.3" text-anchor="middle" font-weight="normal" fill="#4d4d4d" >20</text><line x1="243.60" y1="506.8" x2="243.60" y2="509.2" stroke="#333" stroke-width="0.6"/><text x="243.60" y="516.20" font-size="7.3" text-anchor="middle" font-weight="normal" fill="#4d4d4d" >30</text><line x1="267.20" y1="506.8" x2="267.20" y2="509.2" stroke="#333" stroke-width="0.6"/><text x="267.20" y="516.20" font-size="7.3" text-anchor="middle" font-weight="normal" fill="#4d4d4d" >40</text><line x1="290.80" y1="506.8" x2="290.80" y2="509.2" stroke="#333" stroke-width="0.6"/><text x="290.80" y="516.20" font-size="7.3" text-anchor="middle" font-weight="normal" fill="#4d4d4d" >50</text><text x="245.00" y="525.20" font-size="7.55" text-anchor="middle" font-weight="normal" fill="#222" >Fold Enrichment</text><circle cx="286.2" cy="322.60" r="3.6" fill="#e31b23"/><circle cx="254.2" cy="341.87" r="4.6" fill="#e31a22"/><circle cx="218.8" cy="361.14" r="3.3" fill="#e4503c"/><circle cx="201.9" cy="380.41" r="1.95" fill="#ef9a86"/><circle cx="268.9" cy="399.68" r="2.9" fill="#eda595"/><circle cx="189.2" cy="418.95" r="1.2" fill="#f4b8a8"/><circle cx="301.6" cy="438.22" r="1.95" fill="#f8e4e0"/><circle cx="277.3" cy="457.49" r="1.7" fill="#f6e3e0"/><circle cx="289.4" cy="476.76" r="1.95" fill="#f6e6e3"/><circle cx="270.6" cy="496.03" r="2.15" fill="#f5e8e5"/><defs><linearGradient id="gp" x1="0" y1="0" x2="0" y2="1"><stop offset="0" stop-color="#e31a22"/><stop offset="0.45" stop-color="#ea7a68"/><stop offset="1" stop-color="#f8f1f0"/></linearGradient></defs><text x="318.60" y="343.70" font-size="7.95" text-anchor="start" font-weight="normal" fill="#222" >−<tspan dx="1">log</tspan><tspan font-size="5.6" dy="1.6">10</tspan><tspan dy="-1.6">(p)</tspan></text><rect x="319" y="349.9" width="12" height="59" fill="url(#gp)"/><text x="334.50" y="355.60" font-size="5.8" text-anchor="start" font-weight="normal" fill="#333" >9</text><text x="334.50" y="370.30" font-size="5.8" text-anchor="start" font-weight="normal" fill="#333" >8</text><text x="334.50" y="384.70" font-size="5.8" text-anchor="start" font-weight="normal" fill="#333" >7</text><text x="334.50" y="398.50" font-size="5.8" text-anchor="start" font-weight="normal" fill="#333" >6</text><text x="318.40" y="430.80" font-size="7.7" text-anchor="start" font-weight="normal" fill="#222" ># genes</text><circle cx="324.5" cy="441" r="2.1" fill="#111"/><text x="334.30" y="443.10" font-size="5.8" text-anchor="start" font-weight="normal" fill="#333" >6</text><circle cx="324.5" cy="452.8" r="3.3" fill="#111"/><text x="334.30" y="454.90" font-size="5.8" text-anchor="start" font-weight="normal" fill="#333" >12</text><circle cx="324.5" cy="464.6" r="3.95" fill="#111"/><text x="334.30" y="466.70" font-size="5.8" text-anchor="start" font-weight="normal" fill="#333" >18</text><circle cx="324.5" cy="476.6" r="4.7" fill="#111"/><text x="334.30" y="478.70" font-size="5.8" text-anchor="start" font-weight="normal" fill="#333" >24</text><text x="394.20" y="378.30" font-size="8.55" text-anchor="start" font-weight="normal" fill="#222" >Term-Protein Graph</text><line x1="549.0" y1="435.2" x2="545.5" y2="393.7" stroke="#b0b0b0" stroke-width="0.6"/><line x1="549.0" y1="435.2" x2="578.8" y2="397.5" stroke="#b0b0b0" stroke-width="0.6"/><line x1="549.0" y1="435.2" x2="604.8" y2="410.1" stroke="#b0b0b0" stroke-width="0.6"/><line x1="549.0" y1="435.2" x2="497.3" y2="487.5" stroke="#b0b0b0" stroke-width="0.6"/><line x1="549.0" y1="435.2" x2="524.5" y2="484.0" stroke="#b0b0b0" stroke-width="0.6"/><line x1="445.3" y1="524.6" x2="427.5" y2="502.3" stroke="#b0b0b0" stroke-width="0.6"/><line x1="445.3" y1="524.6" x2="451.7" y2="507.8" stroke="#b0b0b0" stroke-width="0.6"/><line x1="445.3" y1="524.6" x2="412.6" y2="513.9" stroke="#b0b0b0" stroke-width="0.6"/><line x1="445.3" y1="524.6" x2="497.3" y2="526.6" stroke="#b0b0b0" stroke-width="0.6"/><line x1="445.3" y1="524.6" x2="497.3" y2="487.5" stroke="#b0b0b0" stroke-width="0.6"/><line x1="445.3" y1="524.6" x2="484.2" y2="513.9" stroke="#b0b0b0" stroke-width="0.6"/><line x1="445.3" y1="524.6" x2="399.4" y2="544.1" stroke="#b0b0b0" stroke-width="0.6"/><line x1="445.3" y1="524.6" x2="418.3" y2="539.5" stroke="#b0b0b0" stroke-width="0.6"/><line x1="445.3" y1="524.6" x2="410.4" y2="553.9" stroke="#b0b0b0" stroke-width="0.6"/><line x1="445.3" y1="524.6" x2="433.1" y2="550.8" stroke="#b0b0b0" stroke-width="0.6"/><line x1="467.0" y1="546.3" x2="497.3" y2="487.5" stroke="#b0b0b0" stroke-width="0.6"/><line x1="467.0" y1="546.3" x2="524.5" y2="484.0" stroke="#b0b0b0" stroke-width="0.6"/><line x1="467.0" y1="546.3" x2="468.0" y2="495.0" stroke="#b0b0b0" stroke-width="0.6"/><line x1="467.0" y1="546.3" x2="427.5" y2="502.3" stroke="#b0b0b0" stroke-width="0.6"/><line x1="467.0" y1="546.3" x2="451.7" y2="507.8" stroke="#b0b0b0" stroke-width="0.6"/><line x1="467.0" y1="546.3" x2="412.6" y2="513.9" stroke="#b0b0b0" stroke-width="0.6"/><line x1="467.0" y1="546.3" x2="484.2" y2="513.9" stroke="#b0b0b0" stroke-width="0.6"/><line x1="467.0" y1="546.3" x2="384.0" y2="518.5" stroke="#b0b0b0" stroke-width="0.6"/><line x1="467.0" y1="546.3" x2="497.3" y2="526.6" stroke="#b0b0b0" stroke-width="0.6"/><line x1="467.0" y1="546.3" x2="540.1" y2="522.2" stroke="#b0b0b0" stroke-width="0.6"/><line x1="467.0" y1="546.3" x2="552.3" y2="537.1" stroke="#b0b0b0" stroke-width="0.6"/><line x1="467.0" y1="546.3" x2="369.3" y2="540.8" stroke="#b0b0b0" stroke-width="0.6"/><line x1="467.0" y1="546.3" x2="399.4" y2="544.1" stroke="#b0b0b0" stroke-width="0.6"/><line x1="467.0" y1="546.3" x2="418.3" y2="539.5" stroke="#b0b0b0" stroke-width="0.6"/><line x1="467.0" y1="546.3" x2="410.4" y2="553.9" stroke="#b0b0b0" stroke-width="0.6"/><line x1="467.0" y1="546.3" x2="433.1" y2="550.8" stroke="#b0b0b0" stroke-width="0.6"/><line x1="467.0" y1="546.3" x2="532.4" y2="554.6" stroke="#b0b0b0" stroke-width="0.6"/><line x1="467.0" y1="546.3" x2="559.0" y2="555.1" stroke="#b0b0b0" stroke-width="0.6"/><line x1="467.0" y1="546.3" x2="452.3" y2="558.8" stroke="#b0b0b0" stroke-width="0.6"/><line x1="467.0" y1="546.3" x2="384.5" y2="570.4" stroke="#b0b0b0" stroke-width="0.6"/><line x1="467.0" y1="546.3" x2="547.7" y2="573.5" stroke="#b0b0b0" stroke-width="0.6"/><line x1="467.0" y1="546.3" x2="519.7" y2="576.2" stroke="#b0b0b0" stroke-width="0.6"/><line x1="467.0" y1="546.3" x2="466.3" y2="582.4" stroke="#b0b0b0" stroke-width="0.6"/><line x1="467.0" y1="546.3" x2="400.0" y2="585.8" stroke="#b0b0b0" stroke-width="0.6"/><line x1="467.0" y1="546.3" x2="423.2" y2="596.6" stroke="#b0b0b0" stroke-width="0.6"/><line x1="467.0" y1="546.3" x2="436.9" y2="586.6" stroke="#b0b0b0" stroke-width="0.6"/><line x1="467.0" y1="546.3" x2="522.9" y2="591.0" stroke="#b0b0b0" stroke-width="0.6"/><line x1="467.0" y1="546.3" x2="454.3" y2="596.0" stroke="#b0b0b0" stroke-width="0.6"/><line x1="467.0" y1="546.3" x2="495.6" y2="598.1" stroke="#b0b0b0" stroke-width="0.6"/><line x1="418.9" y1="573.2" x2="399.4" y2="544.1" stroke="#b0b0b0" stroke-width="0.6"/><line x1="418.9" y1="573.2" x2="418.3" y2="539.5" stroke="#b0b0b0" stroke-width="0.6"/><line x1="418.9" y1="573.2" x2="410.4" y2="553.9" stroke="#b0b0b0" stroke-width="0.6"/><line x1="418.9" y1="573.2" x2="433.1" y2="550.8" stroke="#b0b0b0" stroke-width="0.6"/><line x1="418.9" y1="573.2" x2="452.3" y2="558.8" stroke="#b0b0b0" stroke-width="0.6"/><line x1="418.9" y1="573.2" x2="384.5" y2="570.4" stroke="#b0b0b0" stroke-width="0.6"/><line x1="418.9" y1="573.2" x2="466.3" y2="582.4" stroke="#b0b0b0" stroke-width="0.6"/><line x1="418.9" y1="573.2" x2="400.0" y2="585.8" stroke="#b0b0b0" stroke-width="0.6"/><line x1="418.9" y1="573.2" x2="423.2" y2="596.6" stroke="#b0b0b0" stroke-width="0.6"/><line x1="418.9" y1="573.2" x2="436.9" y2="586.6" stroke="#b0b0b0" stroke-width="0.6"/><line x1="418.9" y1="573.2" x2="454.3" y2="596.0" stroke="#b0b0b0" stroke-width="0.6"/><ellipse cx="549.0" cy="435.2" rx="5.1" ry="5.8" fill="#dccfad"/><ellipse cx="445.3" cy="524.6" rx="5.6" ry="6.6" fill="#dccfad"/><ellipse cx="467.0" cy="546.3" rx="7.4" ry="8.3" fill="#dccfad"/><ellipse cx="418.9" cy="573.2" rx="5.5" ry="6.6" fill="#dccfad"/><ellipse cx="545.5" cy="393.7" rx="3.7" ry="4.5" fill="#e8519a"/><ellipse cx="578.8" cy="397.5" rx="3.7" ry="4.5" fill="#e8519a"/><ellipse cx="604.8" cy="410.1" rx="3.7" ry="4.5" fill="#e8519a"/><ellipse cx="497.3" cy="487.5" rx="3.7" ry="4.5" fill="#e8519a"/><ellipse cx="524.5" cy="484.0" rx="3.7" ry="4.5" fill="#e8519a"/><ellipse cx="468.0" cy="495.0" rx="3.7" ry="4.5" fill="#e8519a"/><ellipse cx="427.5" cy="502.3" rx="3.7" ry="4.5" fill="#e8519a"/><ellipse cx="451.7" cy="507.8" rx="3.7" ry="4.5" fill="#e8519a"/><ellipse cx="412.6" cy="513.9" rx="3.7" ry="4.5" fill="#e8519a"/><ellipse cx="484.2" cy="513.9" rx="3.7" ry="4.5" fill="#e8519a"/><ellipse cx="384.0" cy="518.5" rx="3.7" ry="4.5" fill="#e8519a"/><ellipse cx="497.3" cy="526.6" rx="3.7" ry="4.5" fill="#e8519a"/><ellipse cx="540.1" cy="522.2" rx="3.7" ry="4.5" fill="#e8519a"/><ellipse cx="552.3" cy="537.1" rx="3.7" ry="4.5" fill="#e8519a"/><ellipse cx="369.3" cy="540.8" rx="3.7" ry="4.5" fill="#e8519a"/><ellipse cx="399.4" cy="544.1" rx="3.7" ry="4.5" fill="#e8519a"/><ellipse cx="418.3" cy="539.5" rx="3.7" ry="4.5" fill="#e8519a"/><ellipse cx="410.4" cy="553.9" rx="3.7" ry="4.5" fill="#e8519a"/><ellipse cx="433.1" cy="550.8" rx="3.7" ry="4.5" fill="#e8519a"/><ellipse cx="532.4" cy="554.6" rx="3.7" ry="4.5" fill="#e8519a"/><ellipse cx="559.0" cy="555.1" rx="3.7" ry="4.5" fill="#e8519a"/><ellipse cx="452.3" cy="558.8" rx="3.7" ry="4.5" fill="#e8519a"/><ellipse cx="384.5" cy="570.4" rx="3.7" ry="4.5" fill="#e8519a"/><ellipse cx="547.7" cy="573.5" rx="3.7" ry="4.5" fill="#e8519a"/><ellipse cx="519.7" cy="576.2" rx="3.7" ry="4.5" fill="#e8519a"/><ellipse cx="466.3" cy="582.4" rx="3.7" ry="4.5" fill="#e8519a"/><ellipse cx="400.0" cy="585.8" rx="3.7" ry="4.5" fill="#e8519a"/><ellipse cx="423.2" cy="596.6" rx="3.7" ry="4.5" fill="#e8519a"/><ellipse cx="436.9" cy="586.6" rx="3.7" ry="4.5" fill="#e8519a"/><ellipse cx="522.9" cy="591.0" rx="3.7" ry="4.5" fill="#e8519a"/><ellipse cx="454.3" cy="596.0" rx="3.7" ry="4.5" fill="#e8519a"/><ellipse cx="495.6" cy="598.1" rx="3.7" ry="4.5" fill="#e8519a"/><text x="540.00" y="397.40" font-size="3.6" text-anchor="middle" font-weight="normal" fill="#222" >CTSC</text><text x="585.00" y="391.10" font-size="3.6" text-anchor="middle" font-weight="normal" fill="#222" >CTSS</text><text x="609.50" y="403.60" font-size="3.6" text-anchor="middle" font-weight="normal" fill="#222" >GZMB</text><text x="502.90" y="481.30" font-size="3.6" text-anchor="middle" font-weight="normal" fill="#222" >TNF</text><text x="530.10" y="477.80" font-size="3.6" text-anchor="middle" font-weight="normal" fill="#222" >FASLG</text><text x="462.30" y="499.00" font-size="3.6" text-anchor="middle" font-weight="normal" fill="#222" >TNFSF13B</text><text x="433.40" y="496.20" font-size="3.6" text-anchor="middle" font-weight="normal" fill="#222" >IL6</text><text x="445.70" y="511.60" font-size="3.6" text-anchor="middle" font-weight="normal" fill="#222" >IFNG</text><text x="418.20" y="507.80" font-size="3.6" text-anchor="middle" font-weight="normal" fill="#222" >CSF3</text><text x="478.40" y="517.80" font-size="3.6" text-anchor="middle" font-weight="normal" fill="#222" >IL10</text><text x="377.50" y="522.20" font-size="3.6" text-anchor="middle" font-weight="normal" fill="#222" >IL12B</text><text x="502.90" y="520.20" font-size="3.6" text-anchor="middle" font-weight="normal" fill="#222" >IL17A</text><text x="545.80" y="515.80" font-size="3.6" text-anchor="middle" font-weight="normal" fill="#222" >TNFRSF9</text><text x="558.10" y="530.70" font-size="3.6" text-anchor="middle" font-weight="normal" fill="#222" >IL4R</text><text x="374.90" y="534.40" font-size="3.6" text-anchor="middle" font-weight="normal" fill="#222" >IL1RN</text><text x="405.20" y="538.00" font-size="3.6" text-anchor="middle" font-weight="normal" fill="#222" >CXCL1</text><text x="424.50" y="533.10" font-size="3.6" text-anchor="middle" font-weight="normal" fill="#222" >CCL20</text><text x="404.70" y="557.80" font-size="3.6" text-anchor="middle" font-weight="normal" fill="#222" >CCL7</text><text x="427.40" y="554.60" font-size="3.6" text-anchor="middle" font-weight="normal" fill="#222" >CCL2</text><text x="538.00" y="548.60" font-size="3.6" text-anchor="middle" font-weight="normal" fill="#222" >IL12RB1</text><text x="564.80" y="548.90" font-size="3.6" text-anchor="middle" font-weight="normal" fill="#222" >OSM</text><text x="446.70" y="562.80" font-size="3.6" text-anchor="middle" font-weight="normal" fill="#222" >CXCL10</text><text x="378.90" y="564.20" font-size="3.6" text-anchor="middle" font-weight="normal" fill="#222" >CXCL9</text><text x="541.60" y="577.40" font-size="3.6" text-anchor="middle" font-weight="normal" fill="#222" >TNFRSF1B</text><text x="514.20" y="580.20" font-size="3.6" text-anchor="middle" font-weight="normal" fill="#222" >IL2</text><text x="472.40" y="576.30" font-size="3.6" text-anchor="middle" font-weight="normal" fill="#222" >CCL4</text><text x="394.20" y="589.50" font-size="3.6" text-anchor="middle" font-weight="normal" fill="#222" >CX3CL1</text><text x="429.40" y="590.00" font-size="3.6" text-anchor="middle" font-weight="normal" fill="#222" >CCL19</text><text x="443.90" y="591.00" font-size="3.6" text-anchor="middle" font-weight="normal" fill="#222" >CCL8</text><text x="517.40" y="594.70" font-size="3.6" text-anchor="middle" font-weight="normal" fill="#222" >LIF</text><text x="460.10" y="599.80" font-size="3.6" text-anchor="middle" font-weight="normal" fill="#222" >CCL3</text><text x="489.70" y="601.60" font-size="3.6" text-anchor="middle" font-weight="normal" fill="#222" >LTA</text><text x="554.80" y="427.80" font-size="3.6" text-anchor="middle" font-weight="normal" fill="#222" >Apoptosis</text><text x="439.60" y="527.40" font-size="3.6" text-anchor="middle" font-weight="normal" fill="#222" >IL-17 signaling pathway</text><text x="471.10" y="538.30" font-size="3.6" text-anchor="middle" font-weight="normal" fill="#222" >Cytokine-cytokine receptor interaction</text><text x="424.80" y="576.20" font-size="3.6" text-anchor="middle" font-weight="normal" fill="#222" >Chemokine signaling pathway</text><circle cx="625.9" cy="445.1" r="1.15" fill="#dccfad"/><circle cx="625.9" cy="458.2" r="1.15" fill="#e8519a"/><text x="635.00" y="447.30" font-size="5.6" text-anchor="start" font-weight="normal" fill="#222" >enriched term</text><text x="635.00" y="460.60" font-size="5.6" text-anchor="start" font-weight="normal" fill="#222" >up-regulated protein</text><text x="620.00" y="477.60" font-size="7.1" text-anchor="start" font-weight="normal" fill="#222" ># proteins</text><ellipse cx="629.3" cy="488.8" rx="3.85" ry="4.7" fill="#14110d"/><text x="642.80" y="490.80" font-size="5.6" text-anchor="start" font-weight="normal" fill="#222" >2</text><ellipse cx="629.3" cy="503.9" rx="5.9" ry="7.05" fill="#14110d"/><text x="642.80" y="505.90" font-size="5.6" text-anchor="start" font-weight="normal" fill="#222" >11</text><ellipse cx="629.3" cy="522.3" rx="6.7" ry="8.05" fill="#14110d"/><text x="642.80" y="524.30" font-size="5.6" text-anchor="start" font-weight="normal" fill="#222" >20</text><ellipse cx="629.3" cy="542.8" rx="7.4" ry="8.75" fill="#14110d"/><text x="642.80" y="544.80" font-size="5.6" text-anchor="start" font-weight="normal" fill="#222" >29</text><line x1="33.5" y1="604.1" x2="33.5" y2="765.0" stroke="#333" stroke-width="1.1"/><line x1="31.1" y1="765.00" x2="33.5" y2="765.00" stroke="#333" stroke-width="0.8"/><text x="30.30" y="768.31" font-size="9.2" text-anchor="end" font-weight="bold" fill="#1a1a1a" >0</text><line x1="31.1" y1="737.70" x2="33.5" y2="737.70" stroke="#333" stroke-width="0.8"/><text x="30.30" y="741.01" font-size="9.2" text-anchor="end" font-weight="bold" fill="#1a1a1a" >1000</text><line x1="31.1" y1="710.40" x2="33.5" y2="710.40" stroke="#333" stroke-width="0.8"/><text x="30.30" y="713.71" font-size="9.2" text-anchor="end" font-weight="bold" fill="#1a1a1a" >2000</text><line x1="31.1" y1="683.10" x2="33.5" y2="683.10" stroke="#333" stroke-width="0.8"/><text x="30.30" y="686.41" font-size="9.2" text-anchor="end" font-weight="bold" fill="#1a1a1a" >3000</text><line x1="31.1" y1="655.80" x2="33.5" y2="655.80" stroke="#333" stroke-width="0.8"/><text x="30.30" y="659.11" font-size="9.2" text-anchor="end" font-weight="bold" fill="#1a1a1a" >4000</text><line x1="31.1" y1="628.50" x2="33.5" y2="628.50" stroke="#333" stroke-width="0.8"/><text x="30.30" y="631.81" font-size="9.2" text-anchor="end" font-weight="bold" fill="#1a1a1a" >5000</text><line x1="33.5" y1="765.0" x2="164.6" y2="765.0" stroke="#333" stroke-width="1.1"/><line x1="70.00" y1="765.0" x2="70.00" y2="767.4" stroke="#333" stroke-width="0.8"/><text x="70.00" y="774.40" font-size="9.0" text-anchor="middle" font-weight="bold" fill="#1a1a1a" >IFNg low</text><line x1="129.80" y1="765.0" x2="129.80" y2="767.4" stroke="#333" stroke-width="0.8"/><text x="129.80" y="774.40" font-size="9.0" text-anchor="middle" font-weight="bold" fill="#1a1a1a" >IFNg high</text><text x="0" y="0" transform="translate(7.9,684.6) rotate(-90)" font-size="8.95" text-anchor="middle" font-weight="bold" fill="#1a1a1a">Ferritin (ng/mL)</text><line x1="69.6" y1="733.1" x2="69.6" y2="757.6" stroke="#6a6a6a" stroke-width="0.9"/><rect x="48.4" y="739.5" width="42.20" height="7.60" fill="#ec7825" stroke="#2a2a2a" stroke-width="0.7"/><line x1="48.4" y1="744.3" x2="90.6" y2="744.3" stroke="#1a0a0a" stroke-width="1.35"/><line x1="129.8" y1="704.2" x2="129.8" y2="742.7" stroke="#6a6a6a" stroke-width="0.9"/><rect x="109.2" y="707.9" width="42.20" height="28.60" fill="#6c0e4a" stroke="#2a2a2a" stroke-width="0.7"/><line x1="109.2" y1="722.3" x2="151.4" y2="722.3" stroke="#1a0a0a" stroke-width="1.35"/><circle cx="70.0" cy="611.6" r="1.3" fill="#111"/><circle cx="70.0" cy="667.7" r="1.3" fill="#111"/><circle cx="129.8" cy="659.5" r="1.3" fill="#111"/><text x="84.40" y="629.20" font-size="5.6" text-anchor="middle" font-weight="normal" fill="#222" >Wilcoxon, p = 0.036</text><rect x="197" y="630.14" width="40.8" height="9.72" fill="#f5c398"/><rect x="197" y="639.86" width="40.8" height="116.64" fill="#ec7825"/><rect x="242.4" y="688.46" width="40.5" height="38.88" fill="#c59bb8"/><rect x="242.4" y="727.34" width="40.5" height="29.16" fill="#6c0e4a"/><line x1="190.2" y1="623.4" x2="190.2" y2="762.4" stroke="#333" stroke-width="1.1"/><line x1="187.79999999999998" y1="756.50" x2="190.2" y2="756.50" stroke="#333" stroke-width="0.8"/><text x="187.00" y="759.81" font-size="9.2" text-anchor="end" font-weight="bold" fill="#1a1a1a" >0</text><line x1="187.79999999999998" y1="707.90" x2="190.2" y2="707.90" stroke="#333" stroke-width="0.8"/><text x="187.00" y="711.21" font-size="9.2" text-anchor="end" font-weight="bold" fill="#1a1a1a" >5</text><line x1="187.79999999999998" y1="659.30" x2="190.2" y2="659.30" stroke="#333" stroke-width="0.8"/><text x="187.00" y="662.61" font-size="9.2" text-anchor="end" font-weight="bold" fill="#1a1a1a" >10</text><line x1="190.2" y1="762.4" x2="289.6" y2="762.4" stroke="#333" stroke-width="1.1"/><line x1="217.4" y1="762.4" x2="217.4" y2="764.8" stroke="#333" stroke-width="0.8"/><line x1="262.6" y1="762.4" x2="262.6" y2="764.8" stroke="#333" stroke-width="0.8"/><text x="217.40" y="772.40" font-size="9.0" text-anchor="middle" font-weight="bold" fill="#1a1a1a" >IFNg</text><text x="217.40" y="781.80" font-size="9.0" text-anchor="middle" font-weight="bold" fill="#1a1a1a" >low</text><text x="262.60" y="772.40" font-size="9.0" text-anchor="middle" font-weight="bold" fill="#1a1a1a" >IFNg</text><text x="262.60" y="781.80" font-size="9.0" text-anchor="middle" font-weight="bold" fill="#1a1a1a" >high</text><text x="0" y="0" transform="translate(174.0,693.6) rotate(-90)" font-size="9.0" text-anchor="middle" font-weight="bold" fill="#1a1a1a">Number of Patients</text><text x="217.30" y="637.00" font-size="5.4" text-anchor="middle" font-weight="normal" fill="#333" >8%</text><text x="217.30" y="745.50" font-size="5.4" text-anchor="middle" font-weight="normal" fill="#333" >92%</text><text x="262.60" y="709.90" font-size="5.4" text-anchor="middle" font-weight="normal" fill="#333" >57%</text><text x="262.60" y="745.50" font-size="5.4" text-anchor="middle" font-weight="normal" fill="#fff" >43%</text><text x="262.60" y="657.20" font-size="5.4" text-anchor="middle" font-weight="normal" fill="#222" >Fischer's Exact</text><text x="262.60" y="665.00" font-size="5.4" text-anchor="middle" font-weight="normal" fill="#222" >p=0.0307</text><text x="298.30" y="685.60" font-size="7.9" text-anchor="start" font-weight="normal" fill="#222" >Inotropes</text><rect x="298.5" y="690" width="4.4" height="9" fill="#f5c398"/><rect x="302.9" y="690" width="4.4" height="9" fill="#c59bb8"/><rect x="298.5" y="699" width="4.4" height="8.4" fill="#ec7825"/><rect x="302.9" y="699" width="4.4" height="8.4" fill="#6c0e4a"/><text x="310.60" y="698.10" font-size="8.8" text-anchor="start" font-weight="normal" fill="#222" >No</text><text x="310.60" y="706.80" font-size="8.8" text-anchor="start" font-weight="normal" fill="#222" >Yes</text><line x1="362.6" y1="609.5" x2="362.6" y2="769.0" stroke="#333" stroke-width="1.1"/><line x1="360.20000000000005" y1="765.80" x2="362.6" y2="765.80" stroke="#333" stroke-width="0.8"/><text x="359.40" y="769.11" font-size="9.2" text-anchor="end" font-weight="bold" fill="#1a1a1a" >2</text><line x1="360.20000000000005" y1="728.22" x2="362.6" y2="728.22" stroke="#333" stroke-width="0.8"/><text x="359.40" y="731.53" font-size="9.2" text-anchor="end" font-weight="bold" fill="#1a1a1a" >4</text><line x1="360.20000000000005" y1="690.64" x2="362.6" y2="690.64" stroke="#333" stroke-width="0.8"/><text x="359.40" y="693.95" font-size="9.2" text-anchor="end" font-weight="bold" fill="#1a1a1a" >6</text><line x1="360.20000000000005" y1="653.06" x2="362.6" y2="653.06" stroke="#333" stroke-width="0.8"/><text x="359.40" y="656.37" font-size="9.2" text-anchor="end" font-weight="bold" fill="#1a1a1a" >8</text><line x1="360.20000000000005" y1="615.48" x2="362.6" y2="615.48" stroke="#333" stroke-width="0.8"/><text x="359.40" y="618.79" font-size="9.2" text-anchor="end" font-weight="bold" fill="#1a1a1a" >10</text><line x1="362.6" y1="769.0" x2="504.5" y2="769.0" stroke="#333" stroke-width="1.1"/><line x1="400.70" y1="769.0" x2="400.70" y2="771.4" stroke="#333" stroke-width="0.8"/><text x="400.70" y="779.20" font-size="9.4" text-anchor="middle" font-weight="bold" fill="#1a1a1a" >IFNg low</text><line x1="465.60" y1="769.0" x2="465.60" y2="771.4" stroke="#333" stroke-width="0.8"/><text x="465.60" y="779.20" font-size="9.4" text-anchor="middle" font-weight="bold" fill="#1a1a1a" >IFNg high</text><text x="0" y="0" transform="translate(345.8,688.2) rotate(-90)" font-size="9.25" text-anchor="middle" font-weight="bold" fill="#1a1a1a">NTProBNP</text><line x1="400.9" y1="633.1" x2="400.9" y2="724.5" stroke="#aaaaaa" stroke-width="1.2"/><rect x="378.4" y="646.0" width="45.40" height="46.70" fill="#ec7825" stroke="#2a2a2a" stroke-width="0.7"/><line x1="378.4" y1="662.8" x2="423.8" y2="662.8" stroke="#1a0a0a" stroke-width="1.35"/><line x1="465.6" y1="654.1" x2="465.6" y2="768.4" stroke="#aaaaaa" stroke-width="1.2"/><rect x="442.7" y="675.9" width="46.00" height="58.40" fill="#6c0e4a" stroke="#2a2a2a" stroke-width="0.7"/><line x1="442.7" y1="692.2" x2="488.7" y2="692.2" stroke="#1a0a0a" stroke-width="1.35"/><text x="415.10" y="615.90" font-size="5.6" text-anchor="middle" font-weight="normal" fill="#222" >Wilcoxon, p = 0.13</text><line x1="537.3" y1="609.5" x2="537.3" y2="768.4" stroke="#333" stroke-width="1.1"/><line x1="534.9" y1="757.40" x2="537.3" y2="757.40" stroke="#333" stroke-width="0.8"/><text x="534.10" y="760.71" font-size="9.2" text-anchor="end" font-weight="bold" fill="#1a1a1a" >0.0</text><line x1="534.9" y1="720.32" x2="537.3" y2="720.32" stroke="#333" stroke-width="0.8"/><text x="534.10" y="723.64" font-size="9.2" text-anchor="end" font-weight="bold" fill="#1a1a1a" >2.5</text><line x1="534.9" y1="683.25" x2="537.3" y2="683.25" stroke="#333" stroke-width="0.8"/><text x="534.10" y="686.56" font-size="9.2" text-anchor="end" font-weight="bold" fill="#1a1a1a" >5.0</text><line x1="534.9" y1="646.17" x2="537.3" y2="646.17" stroke="#333" stroke-width="0.8"/><text x="534.10" y="649.49" font-size="9.2" text-anchor="end" font-weight="bold" fill="#1a1a1a" >7.5</text><line x1="537.3" y1="768.4" x2="675.8" y2="768.4" stroke="#333" stroke-width="1.1"/><line x1="574.90" y1="768.4" x2="574.90" y2="770.8" stroke="#333" stroke-width="0.8"/><text x="574.90" y="778.40" font-size="9.4" text-anchor="middle" font-weight="bold" fill="#1a1a1a" >No inotropes</text><line x1="638.20" y1="768.4" x2="638.20" y2="770.8" stroke="#333" stroke-width="0.8"/><text x="638.20" y="778.40" font-size="9.4" text-anchor="middle" font-weight="bold" fill="#1a1a1a" >Inotropes</text><text x="0" y="0" transform="translate(518.3,689.6) rotate(-90)" font-size="8.95" text-anchor="middle" font-weight="bold" fill="#1a1a1a">NTproBNP NPX</text><line x1="574.8" y1="643.6" x2="574.8" y2="761.0" stroke="#a5a5a5" stroke-width="1.3"/><rect x="553.1" y="666.5" width="43.90" height="52.80" fill="#ec7825" stroke="#2a2a2a" stroke-width="0.7"/><line x1="553.1" y1="691.4" x2="597.0" y2="691.4" stroke="#1a0a0a" stroke-width="1.35"/><line x1="638.2" y1="622.6" x2="638.2" y2="694.8" stroke="#a5a5a5" stroke-width="1.3"/><rect x="616.1" y="636.3" width="44.20" height="33.10" fill="#6c0e4a" stroke="#2a2a2a" stroke-width="0.7"/><line x1="616.1" y1="646.5" x2="660.3" y2="646.5" stroke="#1a0a0a" stroke-width="1.35"/><text x="589.60" y="617.00" font-size="5.6" text-anchor="middle" font-weight="normal" fill="#222" >Wilcoxon, p = 0.014</text><defs><linearGradient id="gv" x1="0" y1="0" x2="1" y2="0"><stop offset="0" stop-color="#440154"/><stop offset="0.25" stop-color="#3b528b"/><stop offset="0.5" stop-color="#21918c"/><stop offset="0.75" stop-color="#5ec962"/><stop offset="1" stop-color="#fde725"/></linearGradient></defs><path d="M167.00,837.58 L171.27,839.46 L175.54,841.31 L179.81,843.13 L184.08,844.93 L188.35,846.68 L192.62,848.40 L196.89,850.08 L201.16,851.72 L205.43,853.30 L209.70,854.84 L213.97,856.31 L218.24,857.73 L222.51,859.09 L226.78,860.38 L231.05,861.61 L235.32,862.78 L239.59,863.88 L243.86,864.93 L248.13,865.91 L252.40,866.84 L256.67,867.71 L260.94,868.54 L265.21,869.32 L269.48,870.05 L273.75,870.75 L278.02,871.42 L282.29,872.05 L286.56,872.66 L290.83,873.24 L295.10,873.80 L299.37,874.34 L303.64,874.85 L307.91,875.35 L312.18,875.84 L316.45,876.31 L320.72,876.77 L324.99,877.22 L329.26,877.66 L333.53,878.08 L337.80,878.50 L337.80,933.51 L333.53,931.47 L329.26,929.44 L324.99,927.42 L320.72,925.42 L316.45,923.42 L312.18,921.44 L307.91,919.47 L303.64,917.51 L299.37,915.58 L295.10,913.66 L290.83,911.76 L286.56,909.89 L282.29,908.04 L278.02,906.22 L273.75,904.43 L269.48,902.67 L265.21,900.96 L260.94,899.28 L256.67,897.65 L252.40,896.07 L248.13,894.54 L243.86,893.07 L239.59,891.65 L235.32,890.30 L231.05,889.01 L226.78,887.79 L222.51,886.63 L218.24,885.53 L213.97,884.49 L209.70,883.52 L205.43,882.59 L201.16,881.72 L196.89,880.90 L192.62,880.13 L188.35,879.39 L184.08,878.69 L179.81,878.03 L175.54,877.40 L171.27,876.80 L167.00,876.22 Z" fill="#cccccc"/><line x1="167" y1="856.9" x2="337.8" y2="906.0" stroke="#111" stroke-width="1.3"/><circle cx="166.6" cy="842.2" r="1.8" fill="#1f8f8a"/><circle cx="168.2" cy="871.0" r="1.8" fill="#5ec962"/><circle cx="186.6" cy="879.0" r="1.8" fill="#3b3f8c"/><circle cx="207.7" cy="856.7" r="1.8" fill="#e8d829"/><circle cx="243.0" cy="867.5" r="1.8" fill="#2a7f8e"/><circle cx="291.7" cy="898.0" r="1.8" fill="#472a7a"/><circle cx="337.8" cy="909.2" r="1.8" fill="#21918c"/><line x1="158.5" y1="832" x2="158.5" y2="939.6" stroke="#333" stroke-width="1.1"/><line x1="156" y1="839.90" x2="158.5" y2="839.90" stroke="#333" stroke-width="0.8"/><text x="155.60" y="843.10" font-size="8.8" text-anchor="end" font-weight="bold" fill="#1a1a1a" >1.5</text><line x1="156" y1="861.40" x2="158.5" y2="861.40" stroke="#333" stroke-width="0.8"/><text x="155.60" y="864.60" font-size="8.8" text-anchor="end" font-weight="bold" fill="#1a1a1a" >1.0</text><line x1="156" y1="882.90" x2="158.5" y2="882.90" stroke="#333" stroke-width="0.8"/><text x="155.60" y="886.10" font-size="8.8" text-anchor="end" font-weight="bold" fill="#1a1a1a" >0.5</text><line x1="156" y1="904.40" x2="158.5" y2="904.40" stroke="#333" stroke-width="0.8"/><text x="155.60" y="907.60" font-size="8.8" text-anchor="end" font-weight="bold" fill="#1a1a1a" >0.0</text><line x1="156" y1="925.90" x2="158.5" y2="925.90" stroke="#333" stroke-width="0.8"/><text x="155.60" y="929.10" font-size="8.8" text-anchor="end" font-weight="bold" fill="#1a1a1a" >-0.5</text><line x1="158.5" y1="939.6" x2="342" y2="939.6" stroke="#333" stroke-width="1.1"/><line x1="157.80" y1="939.6" x2="157.80" y2="942" stroke="#333" stroke-width="0.8"/><text x="155.80" y="949.20" font-size="8.8" text-anchor="middle" font-weight="bold" fill="#1a1a1a" >0</text><line x1="191.60" y1="939.6" x2="191.60" y2="942" stroke="#333" stroke-width="0.8"/><text x="191.60" y="949.20" font-size="8.8" text-anchor="middle" font-weight="bold" fill="#1a1a1a" >1</text><line x1="225.40" y1="939.6" x2="225.40" y2="942" stroke="#333" stroke-width="0.8"/><text x="225.40" y="949.20" font-size="8.8" text-anchor="middle" font-weight="bold" fill="#1a1a1a" >2</text><line x1="259.20" y1="939.6" x2="259.20" y2="942" stroke="#333" stroke-width="0.8"/><text x="259.20" y="949.20" font-size="8.8" text-anchor="middle" font-weight="bold" fill="#1a1a1a" >3</text><line x1="293.00" y1="939.6" x2="293.00" y2="942" stroke="#333" stroke-width="0.8"/><text x="293.00" y="949.20" font-size="8.8" text-anchor="middle" font-weight="bold" fill="#1a1a1a" >4</text><line x1="326.80" y1="939.6" x2="326.80" y2="942" stroke="#333" stroke-width="0.8"/><text x="326.80" y="949.20" font-size="8.8" text-anchor="middle" font-weight="bold" fill="#1a1a1a" >5</text><text x="251.90" y="958.60" font-size="8.8" text-anchor="middle" font-weight="bold" fill="#1a1a1a" >IFNG</text><text x="0" y="0" transform="translate(136.9,885.8) rotate(-90)" font-size="8.4" text-anchor="middle" font-weight="bold" fill="#1a1a1a">% DR+CD38+ of nnCD8+CX3CR1+</text><text x="167.00" y="849.70" font-size="6.45" text-anchor="start" font-weight="normal" fill="#333" ><tspan font-style="italic">R</tspan> = − 0.83, <tspan font-style="italic">p</tspan> = 0.02</text><text x="210.70" y="814.90" font-size="7.1" text-anchor="start" font-weight="normal" fill="#222" >CX3CL1</text><rect x="241.7" y="802.3" width="52.1" height="10.6" fill="url(#gv)"/><line x1="243.4" y1="802.3" x2="243.4" y2="804.3" stroke="#fff" stroke-width="0.5"/><line x1="243.4" y1="810.9" x2="243.4" y2="812.9" stroke="#fff" stroke-width="0.5"/><text x="243.40" y="820.60" font-size="5.5" text-anchor="middle" font-weight="normal" fill="#333" >0</text><line x1="260.3" y1="802.3" x2="260.3" y2="804.3" stroke="#fff" stroke-width="0.5"/><line x1="260.3" y1="810.9" x2="260.3" y2="812.9" stroke="#fff" stroke-width="0.5"/><text x="260.30" y="820.60" font-size="5.5" text-anchor="middle" font-weight="normal" fill="#333" >1</text><line x1="277.5" y1="802.3" x2="277.5" y2="804.3" stroke="#fff" stroke-width="0.5"/><line x1="277.5" y1="810.9" x2="277.5" y2="812.9" stroke="#fff" stroke-width="0.5"/><text x="277.50" y="820.60" font-size="5.5" text-anchor="middle" font-weight="normal" fill="#333" >2</text><line x1="365.8" y1="793.3" x2="365.8" y2="952.3" stroke="#333" stroke-width="1.1"/><line x1="363.40000000000003" y1="941.20" x2="365.8" y2="941.20" stroke="#333" stroke-width="0.8"/><text x="362.60" y="944.51" font-size="9.2" text-anchor="end" font-weight="bold" fill="#1a1a1a" >0</text><line x1="363.40000000000003" y1="898.83" x2="365.8" y2="898.83" stroke="#333" stroke-width="0.8"/><text x="362.60" y="902.14" font-size="9.2" text-anchor="end" font-weight="bold" fill="#1a1a1a" >1</text><line x1="363.40000000000003" y1="856.46" x2="365.8" y2="856.46" stroke="#333" stroke-width="0.8"/><text x="362.60" y="859.77" font-size="9.2" text-anchor="end" font-weight="bold" fill="#1a1a1a" >2</text><line x1="363.40000000000003" y1="814.09" x2="365.8" y2="814.09" stroke="#333" stroke-width="0.8"/><text x="362.60" y="817.40" font-size="9.2" text-anchor="end" font-weight="bold" fill="#1a1a1a" >3</text><line x1="365.8" y1="952.3" x2="507.3" y2="952.3" stroke="#333" stroke-width="1.1"/><line x1="405.50" y1="952.3" x2="405.50" y2="954.6999999999999" stroke="#333" stroke-width="0.8"/><text x="405.50" y="962.20" font-size="9.4" text-anchor="middle" font-weight="bold" fill="#1a1a1a" >IFNg low</text><line x1="472.30" y1="952.3" x2="472.30" y2="954.6999999999999" stroke="#333" stroke-width="0.8"/><text x="472.30" y="962.20" font-size="9.4" text-anchor="middle" font-weight="bold" fill="#1a1a1a" >IFNg high</text><text x="0" y="0" transform="translate(354.9,873.5) rotate(-90)" font-size="8.9" text-anchor="middle" font-weight="bold" fill="#1a1a1a">CX3CL1</text><line x1="405.5" y1="816.3" x2="405.5" y2="945.1" stroke="#666666" stroke-width="0.8"/><rect x="382.2" y="876.3" width="46.80" height="44.10" fill="#ec7825" stroke="#2a2a2a" stroke-width="0.7"/><line x1="382.2" y1="884.9" x2="429.0" y2="884.9" stroke="#1a0a0a" stroke-width="1.35"/><line x1="472.3" y1="800.8" x2="472.3" y2="882.6" stroke="#666666" stroke-width="0.8"/><rect x="448.7" y="810.5" width="46.90" height="50.00" fill="#6c0e4a" stroke="#2a2a2a" stroke-width="0.7"/><line x1="448.7" y1="821.3" x2="495.6" y2="821.3" stroke="#1a0a0a" stroke-width="1.35"/><text x="421.30" y="800.90" font-size="5.6" text-anchor="middle" font-weight="normal" fill="#222" >Wilcoxon, p = 0.0085</text><text x="2.20" y="10.90" font-size="12.5" text-anchor="start" font-weight="normal" fill="#222" >a</text><text x="347.80" y="10.40" font-size="12.5" text-anchor="start" font-weight="normal" fill="#222" >b</text><text x="1.60" y="304.00" font-size="13" text-anchor="start" font-weight="normal" fill="#222" >c</text><text x="370.20" y="380.80" font-size="12.5" text-anchor="start" font-weight="normal" fill="#222" >d</text><text x="15.30" y="616.10" font-size="13.7" text-anchor="start" font-weight="normal" fill="#222" >e</text><text x="179.00" y="615.80" font-size="14.8" text-anchor="start" font-weight="normal" fill="#222" >f</text><text x="335.00" y="613.70" font-size="13.6" text-anchor="start" font-weight="normal" fill="#222" >g</text><text x="515.40" y="613.40" font-size="12" text-anchor="start" font-weight="normal" fill="#222" >h</text><text x="130.80" y="805.40" font-size="12.5" text-anchor="start" font-weight="normal" fill="#222" >i</text><text x="355.60" y="803.20" font-size="12.5" text-anchor="start" font-weight="normal" fill="#222" >j</text>
</svg>
</body></html>
